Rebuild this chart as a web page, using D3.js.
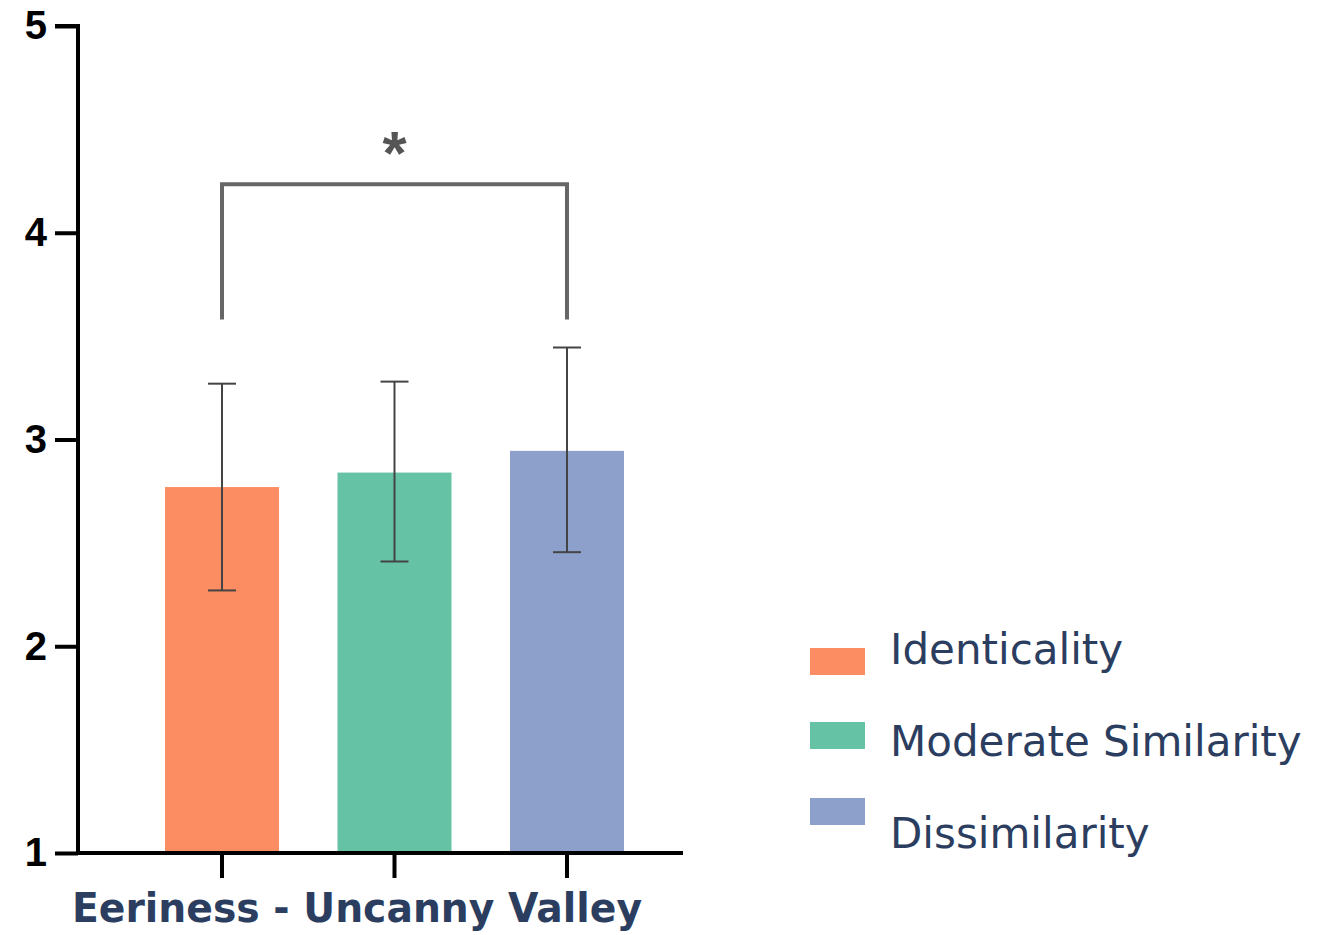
<!DOCTYPE html>
<html>
<head>
<meta charset="utf-8">
<script src="https://cdn.jsdelivr.net/npm/d3@7"></script>
<style>
  html, body { margin: 0; padding: 0; background: #fff; }
  svg { display: block; }
</style>
</head>
<body>
<svg id="chart" width="1318" height="935"></svg>
<script>
// Eeriness ratings by similarity condition (mean ± error)
const groups = ["Identicality", "Moderate Similarity", "Dissimilarity"];
const means = [2.77, 2.84, 2.945];
const upper = [3.27, 3.28, 3.445];
const lower = [2.27, 2.41, 2.455];
const colors = ["#fc8d62", "#66c2a5", "#8da0cb"];
const yTicks = [1, 2, 3, 4, 5];
const axisTitle = "Eeriness - Uncanny Valley";
// significance bracket between the first and last condition
const bracket = { from: 0, to: 2, top: 4.235, bottom: 3.58, label: "*" };

const svg = d3.select("#chart");
const navy = "#2c3e5f";
const labelFont = "'DejaVu Sans', sans-serif";

const y = d3.scaleLinear().domain([1, 5]).range([853, 26]);
const x = d3.scaleBand().domain(groups).range([165, 624]).paddingInner(0.339).paddingOuter(0);
const cx = g => x(g) + x.bandwidth() / 2;

// bars
svg.append("g").selectAll("rect").data(groups).join("rect")
  .attr("x", d => x(d))
  .attr("width", x.bandwidth())
  .attr("y", (d, i) => y(means[i]))
  .attr("height", (d, i) => y(1) - y(means[i]))
  .attr("fill", (d, i) => colors[i]);

// error bars
const eb = svg.append("g").attr("stroke", "#444").attr("stroke-width", 2);
groups.forEach((g, i) => {
  const c = cx(g);
  eb.append("line").attr("x1", c).attr("x2", c).attr("y1", y(upper[i])).attr("y2", y(lower[i]));
  eb.append("line").attr("x1", c - 14).attr("x2", c + 14).attr("y1", y(upper[i])).attr("y2", y(upper[i]));
  eb.append("line").attr("x1", c - 14).attr("x2", c + 14).attr("y1", y(lower[i])).attr("y2", y(lower[i]));
});

// y axis
const yAxis = d3.axisLeft(y).tickValues(yTicks).tickSize(23).tickPadding(8).tickFormat(d3.format("d"));
const ya = svg.append("g").attr("transform", "translate(78,0)").call(yAxis);
ya.select(".domain").attr("stroke", "#000").attr("stroke-width", 4).attr("d", `M-23,${y(5)}H0V${y(1)}`);
ya.selectAll(".tick line").attr("stroke", "#000").attr("stroke-width", 4);
ya.selectAll(".tick text")
  .attr("fill", "#000")
  .attr("font-family", "'Liberation Sans', Arial, sans-serif")
  .attr("font-weight", "bold")
  .attr("font-size", 40);

// x axis
const xAxis = d3.axisBottom(x).tickSize(25).tickFormat("");
const xa = svg.append("g").attr("transform", `translate(0,${y(1)})`).call(xAxis);
xa.select(".domain").attr("stroke", "#000").attr("stroke-width", 4).attr("d", "M78,0H683");
xa.selectAll(".tick line").attr("stroke", "#000").attr("stroke-width", 4);

svg.append("text")
  .attr("x", 357).attr("y", 922)
  .attr("text-anchor", "middle")
  .attr("fill", navy)
  .attr("font-family", labelFont)
  .attr("font-weight", "bold")
  .attr("font-size", 41)
  .attr("textLength", 570)
  .attr("lengthAdjust", "spacingAndGlyphs")
  .text(axisTitle);

// significance bracket
const bx1 = cx(groups[bracket.from]), bx2 = cx(groups[bracket.to]);
svg.append("path")
  .attr("d", `M${bx1},${y(bracket.bottom)}V${y(bracket.top)}H${bx2}V${y(bracket.bottom)}`)
  .attr("fill", "none")
  .attr("stroke", "#666")
  .attr("stroke-width", 4);
svg.append("text")
  .attr("x", (bx1 + bx2) / 2).attr("y", 174)
  .attr("text-anchor", "middle")
  .attr("fill", "#555")
  .attr("font-family", "'Liberation Sans', Arial, sans-serif")
  .attr("font-weight", "bold")
  .attr("font-size", 62)
  .text(bracket.label);

// legend
const legendSwatchY = [648, 722, 798];
const legendTextY = [664, 756, 848];
const lg = svg.append("g");
groups.forEach((g, i) => {
  lg.append("rect").attr("x", 810).attr("y", legendSwatchY[i]).attr("width", 55).attr("height", 27).attr("fill", colors[i]);
  lg.append("text")
    .attr("x", 890).attr("y", legendTextY[i])
    .attr("fill", navy)
    .attr("font-family", labelFont)
    .attr("font-size", 42)
    .text(g);
});
</script>
</body>
</html>
